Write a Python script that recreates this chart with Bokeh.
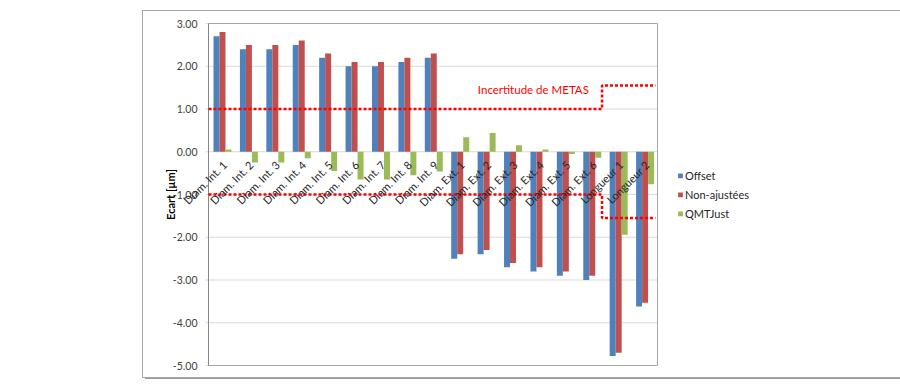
import math
from bokeh.plotting import figure
from bokeh.models import (ColumnDataSource, Range1d, FixedTicker, Label, Legend, LegendItem, Spacer)
from bokeh.core.properties import value
from bokeh.transform import dodge
from bokeh.layouts import row, column
from bokeh.embed import file_html
from bokeh.resources import INLINE

categories = ["Diam. Int. 1", "Diam. Int. 2", "Diam. Int. 3", "Diam. Int. 4", "Diam. Int. 5",
              "Diam. Int. 6", "Diam. Int. 7", "Diam. Int. 8", "Diam. Int. 9",
              "Diam. Ext. 1", "Diam. Ext. 2", "Diam. Ext. 3", "Diam. Ext. 4", "Diam. Ext. 5",
              "Diam. Ext. 6", "Longueur 1", "Longueur 2"]
offset = [2.7, 2.4, 2.4, 2.5, 2.2, 2.0, 2.0, 2.1, 2.2,
          -2.5, -2.4, -2.7, -2.8, -2.9, -3.0, -4.78, -3.62]
non_ajustees = [2.8, 2.5, 2.5, 2.6, 2.3, 2.1, 2.1, 2.2, 2.3,
                -2.4, -2.3, -2.6, -2.7, -2.8, -2.9, -4.7, -3.53]
qmtjust = [0.05, -0.25, -0.25, -0.15, -0.45, -0.65, -0.65, -0.55, -0.46,
           0.34, 0.44, 0.15, 0.05, -0.05, -0.14, -1.94, -0.76]
y_ticks = [-5, -4, -3, -2, -1, 0, 1, 2, 3]
y_tick_labels = ["-5.00", "-4.00", "-3.00", "-2.00", "-1.00", "0.00", "1.00", "2.00", "3.00"]
series_names = ["Offset", "Non-ajustées", "QMTJust"]
series_colors = ["#4F81BD", "#C0504D", "#9BBB59"]
y_title = "Ecart [µm]"

# METAS uncertainty limits (step between Diam. Ext. 6 and Longueur 1)
metas_x = [0, 14.9, 14.9, 16.92]
metas_upper = [1.0, 1.0, 1.55, 1.55]
metas_lower = [-1.0, -1.0, -1.55, -1.55]
metas_label = "Incertitude de METAS"

FONT = "Lato"
n = len(categories)
bar_w = 0.227
group_shift = 0.03
px_per_cat = 26.41          # horizontal scale (pixels per category)
px_per_unit = 42.75         # vertical scale (pixels per µm)
left_pad_px, right_pad_px = 36, 1
top_pad_px, bottom_pad_px = 6, 6
y_lo, y_hi = y_ticks[0], y_ticks[-1]

x_start = -left_pad_px / px_per_cat
x_end = n + right_pad_px / px_per_cat
frame_w = round((x_end - x_start) * px_per_cat)
y_start = y_lo - bottom_pad_px / px_per_unit
y_end = y_hi + top_pad_px / px_per_unit
frame_h = round((y_end - y_start) * px_per_unit)

p = figure(x_range=Range1d(x_start, x_end), y_range=Range1d(y_start, y_end),
           frame_width=frame_w, frame_height=frame_h,
           min_border_left=29, min_border_right=98, min_border_top=6, min_border_bottom=6,
           output_backend="svg", toolbar_location=None)
p.background_fill_color = "white"
p.border_fill_color = "white"
p.outline_line_color = None
p.xgrid.visible = False
p.ygrid.visible = False
p.xaxis.visible = False

ax = p.yaxis[0]
ax.ticker = FixedTicker(ticks=[])
ax.axis_line_color = None
ax.major_tick_line_color = None
ax.minor_tick_line_color = None
ax.major_tick_out = 0
ax.major_label_standoff = 0
ax.axis_label = y_title
ax.axis_label_text_font = FONT
ax.axis_label_text_font_style = "bold"
ax.axis_label_text_font_size = "11px"
ax.axis_label_text_color = "#000000"
ax.axis_label_standoff = -4

# gridlines (with small outside ticks) and plot-area border
tick_len = 3 / px_per_cat
p.segment(x0=[-tick_len] * len(y_ticks), x1=[n] * len(y_ticks), y0=y_ticks, y1=y_ticks,
          line_color="#d9d9d9", line_width=1)
p.quad(left=0, right=n, bottom=y_lo, top=y_hi, fill_color=None, line_color="#a6a6a6", line_width=1)
p.segment(x0=[0], x1=[0], y0=[y_lo], y1=[y_hi], line_color="#868686", line_width=1)

# y tick labels
p.text(x=[0] * len(y_ticks), y=y_ticks, text=y_tick_labels, x_offset=-11,
       text_align="right", text_baseline="middle", text_font=value(FONT),
       text_font_size="10.5px", text_color="#404040")

centers = [i + 0.5 for i in range(n)]
src = ColumnDataSource(dict(x=centers, cat=categories, offset=offset,
                            non_ajustees=non_ajustees, qmtjust=qmtjust))
renderers = []
for k, (col, color) in enumerate(zip(["offset", "non_ajustees", "qmtjust"], series_colors)):
    r = p.vbar(x=dodge("x", (k - 1) * bar_w + group_shift), top=col, bottom=0,
               width=bar_w, source=src, fill_color=color, line_color=None)
    renderers.append(r)

p.line(metas_x, metas_upper, line_color="#ff0000", line_width=2.5, line_dash="3 2")
p.line(metas_x, metas_lower, line_color="#ff0000", line_width=2.5, line_dash="3 2")

p.add_layout(Label(x=12.3, y=1.45, text=metas_label, text_align="center",
                   text_baseline="middle", text_color="#ff0000",
                   text_font=FONT, text_font_size="11.5px"))

# category labels next to the zero line (rotated 45°)
p.text(x="x", y=0, text="cat", source=src, angle=math.pi / 4,
       text_align="right", text_baseline="middle", x_offset=3, y_offset=11,
       text_font=value(FONT), text_font_size="11px", text_color="#262626")

legend = Legend(items=[LegendItem(label=nm, renderers=[r]) for nm, r in zip(series_names, renderers)],
                location="center_left", glyph_width=6, glyph_height=6, label_standoff=2,
                spacing=6, padding=0, margin=19, border_line_color=None,
                background_fill_alpha=0, label_text_font=FONT, label_text_font_size="11px",
                label_text_color="#262626")
p.add_layout(legend, "right")

p.styles = {"outline": "1px solid #a6a6a6", "box-shadow": "2px 2px 0 #9a9a9a"}

layout = column(Spacer(width=10, height=11), row(Spacer(width=143, height=10), p))

open("out.html", "w").write(file_html(layout, INLINE))
